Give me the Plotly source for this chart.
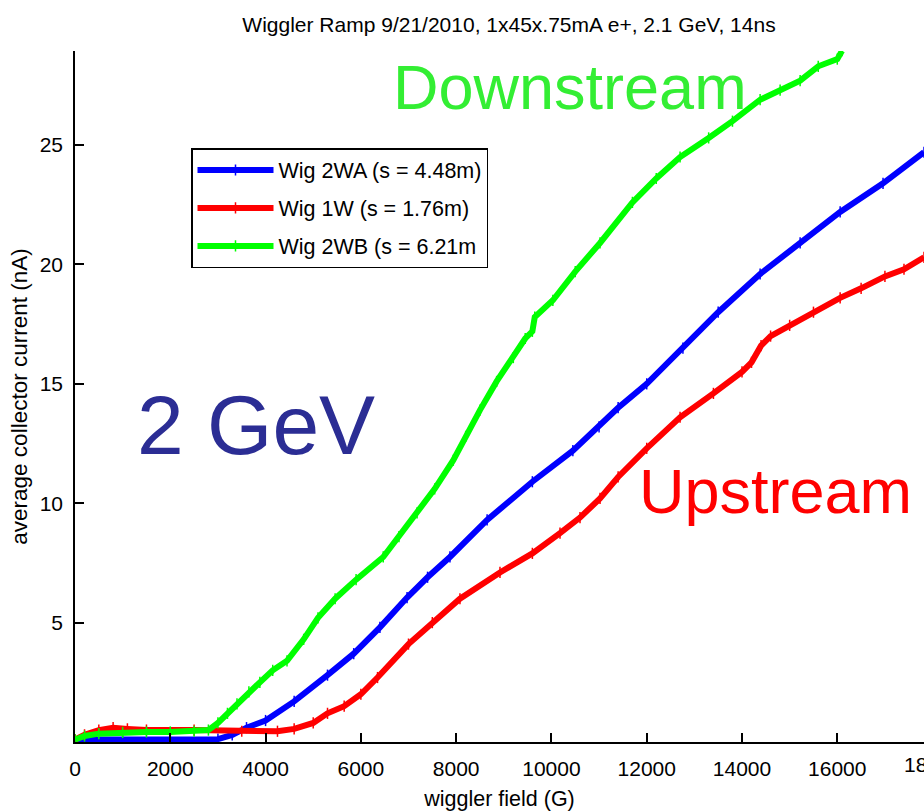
import plotly.graph_objects as go

# ---- data ----
wa_field = [0, 300, 1000, 2000, 3000, 3300, 3600, 4000, 4600, 5300, 5850, 6400, 6970, 7400, 7870,
            8650, 9600, 10450, 11000, 11400, 12000, 12760, 13500, 14380, 15220, 16060, 16960, 17820]
wa_current = [0.05, 0.1, 0.1, 0.1, 0.12, 0.3, 0.6, 0.9, 1.7, 2.8, 3.7, 4.8, 6.05, 6.9, 7.75,
              9.3, 10.9, 12.2, 13.2, 14.0, 15.0, 16.5, 18.0, 19.6, 20.9, 22.2, 23.4, 24.7]

w1_field = [0, 200, 500, 800, 1100, 1500, 2500, 3500, 4250, 4600, 5000, 5300, 5650, 6000, 6350,
            7000, 7500, 8080, 8920, 9600, 10180, 10600, 11020, 11400, 12000, 12700, 13400, 14000,
            14200, 14400, 14600, 15000, 15500, 16060, 16500, 17000, 17400, 17820]
w1_current = [0.1, 0.3, 0.5, 0.6, 0.55, 0.5, 0.5, 0.45, 0.45, 0.55, 0.8, 1.2, 1.5, 2.0, 2.7,
              4.1, 5.0, 6.0, 7.1, 7.9, 8.75, 9.4, 10.2, 11.1, 12.3, 13.6, 14.6, 15.5,
              15.9, 16.6, 17.0, 17.45, 18.0, 18.6, 19.0, 19.5, 19.8, 20.3]

wb_field = [0, 200, 500, 1000, 1500, 2000, 2500, 2800, 3000, 3200, 3400, 3650, 3880, 4150, 4450,
            4800, 5100, 5460, 5900, 6470, 6800, 7180, 7550, 7940, 8200, 8500, 8850, 9200, 9450,
            9600, 9650, 10030, 10500, 11020, 11700, 12200, 12700, 13300, 13800, 14380, 14800,
            15220, 15600, 16000, 16100]
wb_current = [0.1, 0.25, 0.35, 0.4, 0.42, 0.42, 0.45, 0.5, 0.8, 1.2, 1.6, 2.1, 2.5, 3.0, 3.4,
              4.3, 5.2, 6.0, 6.8, 7.75, 8.6, 9.6, 10.6, 11.8, 12.8, 13.9, 15.1, 16.1, 16.9,
              17.2, 17.8, 18.5, 19.7, 20.9, 22.6, 23.6, 24.5, 25.3, 26.0, 26.9, 27.3,
              27.7, 28.3, 28.6, 28.95]

series_names = ["Wig 2WA (s = 4.48m)", "Wig 1W (s = 1.76m)", "Wig 2WB (s = 6.21m"]
series_colors = ["#0000FF", "#FF0000", "#00FF00"]

x_ticks = [0, 2000, 4000, 6000, 8000, 10000, 12000, 14000, 16000]
x_ticktext = ["0", "2000", "4000", "6000", "8000", "10000", "12000", "14000", "16000"]
y_ticks = [5, 10, 15, 20, 25]
y_ticktext = ["5", "10", "15", "20", "25"]
x_range = [0, 17820]
y_range = [0, 28.94]
clipped_tick = 18000

FONT = "Liberation Sans, Arial, sans-serif"

fig = go.Figure()
for i, (xs, ys) in enumerate([(wa_field, wa_current), (w1_field, w1_current), (wb_field, wb_current)]):
    fig.add_trace(go.Scatter(
        x=xs, y=ys, mode="lines+markers", name=series_names[i],
        legendgroup=str(i),
        line=dict(color=series_colors[i], width=6),
        marker=dict(symbol="line-ns-open", size=8, color=series_colors[i],
                    line=dict(color=series_colors[i], width=1.5)),
    ))

fig.update_layout(
    width=924, height=812, autosize=False,
    margin=dict(l=75, r=0, t=51, b=70),
    paper_bgcolor="white", plot_bgcolor="white",
    font=dict(family=FONT, size=20, color="black"),
    title=dict(text="Wiggler Ramp 9/21/2010, 1x45x.75mA e+, 2.1 GeV, 14ns",
               x=509 / 924, xref="container", xanchor="center",
               y=1 - 25 / 812, yref="container", yanchor="middle",
               font=dict(family=FONT, size=21, color="black")),
    showlegend=True,
    legend=dict(x=(191 - 75) / 849, y=(742 - 148) / 691, xanchor="left", yanchor="top",
                bordercolor="black", borderwidth=1.5, bgcolor="white",
                font=dict(family=FONT, size=21.5), itemwidth=76, tracegroupgap=7,
                traceorder="grouped"),
    xaxis=dict(range=x_range, tickvals=x_ticks, ticktext=x_ticktext, ticks="inside",
               ticklen=9, tickwidth=1.5,
               tickcolor="black", showline=True, linecolor="black", linewidth=1.5,
               showgrid=False, zeroline=False, tickfont=dict(family=FONT, size=21),
               ticklabelstandoff=7,
               title=dict(text="wiggler field (G)", standoff=12, font=dict(family=FONT, size=21.5))),
    yaxis=dict(range=y_range, tickvals=y_ticks, ticktext=y_ticktext, ticks="inside",
               ticklen=9, tickwidth=1.5,
               tickcolor="black", showline=True, linecolor="black", linewidth=1.5,
               showgrid=False, zeroline=False, tickfont=dict(family=FONT, size=21),
               ticklabelstandoff=6,
               title=dict(text="average collector current (nA)", standoff=6,
                          font=dict(family=FONT, size=22.5))),
)

# tick label partially cut off at the right edge (as in the reference)
fig.add_annotation(text=str(clipped_tick), xref="paper", yref="paper",
                   x=(clipped_tick - x_range[0]) / (x_range[1] - x_range[0]), y=0,
                   xanchor="center", yanchor="top", yshift=-9, showarrow=False,
                   font=dict(family=FONT, size=21, color="black"))

def px2paper(px, py):
    return (px - 75) / 849, (742 - py) / 691

for text, (px, py), size, color in [
    ("Downstream", (570, 87), 63, "#33EE33"),
    ("2 GeV", (256, 425), 84, "#2B2D94"),
    ("Upstream", (775, 491), 63, "#FF0000"),
]:
    ax, ay = px2paper(px, py)
    fig.add_annotation(text=text, xref="paper", yref="paper", x=ax, y=ay,
                       xanchor="center", yanchor="middle", showarrow=False,
                       font=dict(family=FONT, size=size, color=color))

fig.write_html("out.html")
